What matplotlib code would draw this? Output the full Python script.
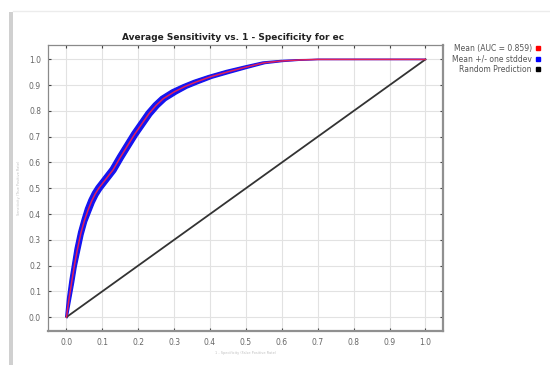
import numpy as np
import matplotlib
matplotlib.use("Agg")
import matplotlib.pyplot as plt
from matplotlib.lines import Line2D
from matplotlib.patches import Rectangle

# mean ROC curve
fpr = [0.0, 0.007, 0.015, 0.022, 0.03, 0.04, 0.05, 0.06, 0.07, 0.08, 0.09, 0.1,
       0.115, 0.13, 0.15, 0.17, 0.19, 0.21, 0.23, 0.25, 0.27, 0.3, 0.33, 0.36,
       0.4, 0.45, 0.5, 0.55, 0.6, 0.65, 0.7, 0.8, 0.9, 1.0]
tpr = [0.0, 0.07, 0.14, 0.2, 0.26, 0.325, 0.375, 0.415, 0.45, 0.478, 0.5, 0.518,
       0.545, 0.572, 0.62, 0.665, 0.71, 0.75, 0.79, 0.822, 0.848, 0.874, 0.895, 0.912,
       0.932, 0.952, 0.97, 0.987, 0.994, 0.998, 1.0, 1.0, 1.0, 1.0]
# spread of the +/- one stddev band
spread = [0.002, 0.004, 0.005, 0.005, 0.006, 0.006, 0.006, 0.007, 0.007, 0.007, 0.007, 0.007,
          0.007, 0.007, 0.007, 0.007, 0.007, 0.007, 0.007, 0.007, 0.007, 0.007, 0.006, 0.006,
          0.005, 0.005, 0.004, 0.003, 0.002, 0.001, 0.0, 0.0, 0.0, 0.0]
rand_x = [0.0, 1.0]
rand_y = [0.0, 1.0]
ticks = [0.0, 0.1, 0.2, 0.3, 0.4, 0.5, 0.6, 0.7, 0.8, 0.9, 1.0]
legend_labels = ["Mean (AUC = 0.859)", "Mean +/- one stddev", "Random Prediction"]

x = np.array(fpr)
y = np.array(tpr)
s = np.array(spread)

fig = plt.figure(figsize=(5.5, 3.65), dpi=100)
fig.patch.set_facecolor("white")

# screenshot frame shadow
fig.add_artist(Rectangle((9 / 550, 0), 4 / 550, 1 - 12 / 365, transform=fig.transFigure,
                         color="#d0d0d0", lw=0))
fig.add_artist(Line2D([13 / 550, 1], [1 - 11 / 365, 1 - 11 / 365], transform=fig.transFigure,
                      color="#ececec", lw=1))

ax = fig.add_axes([48 / 550, 34 / 365, 395 / 550, 286 / 365])

# band: shift across the curve
ux, uy = x - s, y + s
lx, ly = x + s, y - s
ax.fill(np.concatenate([ux, lx[::-1]]), np.concatenate([uy, ly[::-1]]),
        color="#1414f0", lw=0, zorder=2)
ax.plot(ux, uy, color="#1414f0", lw=1.0, zorder=2)
ax.plot(lx, ly, color="#1414f0", lw=1.0, zorder=2)
ax.plot(x, y, color="#e0205a", lw=1.1, zorder=3)
ax.plot(rand_x, rand_y, color="#333333", lw=1.3, zorder=2)

ax.set_xlim(-0.0515, 1.049)
ax.set_ylim(-0.054, 1.056)
ax.set_xticks(ticks)
ax.set_yticks(ticks)
ax.set_xticklabels([f"{t:.1f}" for t in ticks])
ax.set_yticklabels([f"{t:.1f}" for t in ticks])
ax.tick_params(direction="in", length=2.5, width=0.8, color="#444444", labelsize=5.5,
               labelcolor="#666666", top=True, right=True, pad=5)
ax.grid(True, color="#e2e2e2", lw=0.8)
ax.set_axisbelow(True)
for side in ["top", "left"]:
    ax.spines[side].set_color("#8a8a8a")
    ax.spines[side].set_linewidth(0.9)
for side in ["bottom", "right"]:
    ax.spines[side].set_color("#909090")
    ax.spines[side].set_linewidth(1.6)

ax.set_xlabel("1 - Specificity (False Positive Rate)", fontsize=2.5, color="#c0c0c0", labelpad=3)
ax.set_ylabel("Sensitivity (True Positive Rate)", fontsize=2.5, color="#c0c0c0", labelpad=6)

fig.text(233 / 550, 1 - 38 / 365, "Average Sensitivity vs. 1 - Specificity for ec",
         ha="center", va="center", fontsize=6.5, fontweight="bold", color="#222222")

handles = [Line2D([], [], marker="s", ls="none", color=c, markersize=3)
           for c in ["#ff0000", "#0000ff", "#000000"]]
fig.legend(handles, legend_labels, loc="upper right", bbox_to_anchor=(544 / 550, 1 - 40 / 365),
           frameon=False, markerfirst=False, fontsize=5.5, labelcolor="#555555",
           handlelength=0.6, handletextpad=0.5, labelspacing=0.2, borderpad=0)

plt.savefig("out.png", dpi=100)
